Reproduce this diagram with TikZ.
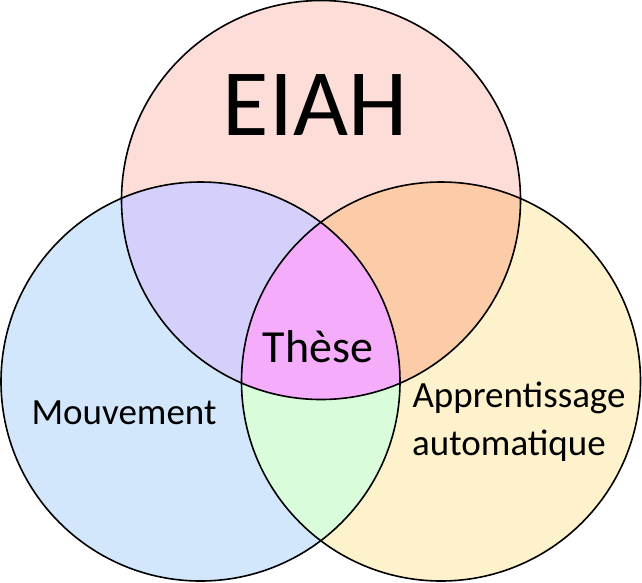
\documentclass[tikz,border=0pt]{standalone}
\usepackage{fontspec}
\setmainfont{Carlito}
\definecolor{cpink}{HTML}{FDDDD8}
\definecolor{cblue}{HTML}{D3E7FC}
\definecolor{cyellow}{HTML}{FEF2CD}
\definecolor{clav}{HTML}{D4D0FB}
\definecolor{corange}{HTML}{FCCBA7}
\definecolor{cgreen}{HTML}{D9FCDA}
\definecolor{cmag}{HTML}{F4ACFB}
\tikzset{ring/.style={draw=black,line width=1.6pt},
lbl/.style={inner sep=0pt,anchor=base,text=black}}
\begin{document}
\begin{tikzpicture}[x=1pt,y=-1pt]
\useasboundingbox (0,0) rectangle (642,582);
\coordinate (T) at (321,200);
\coordinate (L) at (200.5,381.5);
\coordinate (R) at (441,381.5);
\def\rr{199.5}
\fill[cpink] (T) circle (\rr);
\fill[cblue] (L) circle (\rr);
\fill[cyellow] (R) circle (\rr);
\begin{scope}\clip (T) circle (\rr); \fill[clav] (L) circle (\rr);\end{scope}
\begin{scope}\clip (T) circle (\rr); \fill[corange] (R) circle (\rr);\end{scope}
\begin{scope}\clip (L) circle (\rr); \fill[cgreen] (R) circle (\rr);\end{scope}
\begin{scope}\clip (T) circle (\rr); \clip (L) circle (\rr); \fill[cmag] (R) circle (\rr);\end{scope}
\draw[ring] (T) circle (\rr);
\draw[ring] (L) circle (\rr);
\draw[ring] (R) circle (\rr);
\node[lbl,font=\fontsize{95}{100}\selectfont] (eiah) at (315,135) {EIAH};
\node[lbl,font=\fontsize{46}{50}\selectfont] (these) at (318,362) {Thèse};
\node[lbl,font=\fontsize{37}{40}\selectfont] (mouv) at (124,424) {Mouvement};
\node[lbl,font=\fontsize{37}{40}\selectfont] (app1) at (519,407) {Apprentissage};
\node[lbl,font=\fontsize{37}{40}\selectfont] (app2) at (509,455) {automatique};
\end{tikzpicture}
\end{document}
